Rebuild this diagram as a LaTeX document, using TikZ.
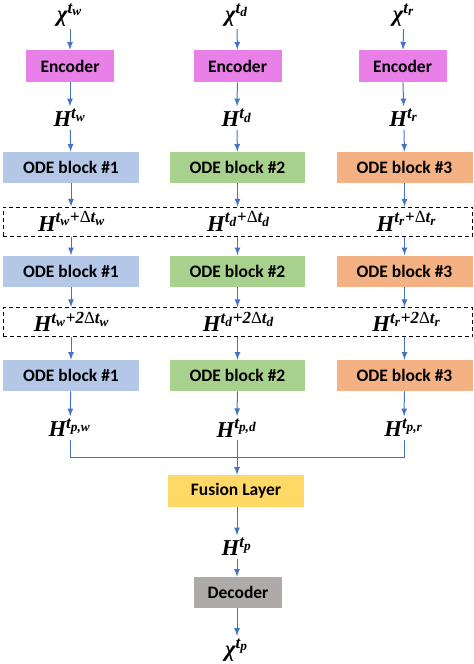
\RequirePackage{fix-cm}
\documentclass[tikz,border=0pt]{standalone}
\usepackage{amsmath}
\usepackage{fontspec}
\setmainfont{Carlito}
\newfontfamily\labfont{Liberation Serif}
\DeclareMathSizes{13.6}{13.6}{10.2}{8}
\newcommand{\lb}[1]{\text{\labfont\bfseries\itshape #1}}
\newcommand{\lbup}[1]{\text{\labfont #1}}
\newcommand{\lbplus}{\mathbin{\text{\labfont\bfseries +}}}
\usetikzlibrary{arrows,positioning}
\definecolor{enccolor}{RGB}{232,128,232}
\definecolor{odeonecolor}{RGB}{180,199,231}
\definecolor{odetwocolor}{RGB}{169,209,142}
\definecolor{odethreecolor}{RGB}{244,177,131}
\definecolor{fusecolor}{RGB}{255,217,102}
\definecolor{deccolor}{RGB}{174,170,170}
\definecolor{arrowcolor}{RGB}{68,114,196}
\tikzset{
    block/.style={
        rectangle,
        minimum width=81.6pt,
        minimum height=18.6pt,
        inner sep=0pt,
        text centered,
        font=\fontsize{10.5}{12}\selectfont\bfseries
    },
    encblock/.style={block, minimum width=52.8pt, minimum height=19.2pt, fill=enccolor},
    odeone/.style={block, fill=odeonecolor},
    odetwo/.style={block, fill=odetwocolor},
    odethree/.style={block, fill=odethreecolor},
    fuseblock/.style={block, minimum height=19.2pt, fill=fusecolor},
    decblock/.style={block, minimum width=52.8pt, fill=deccolor},
    var/.style={font=\fontsize{13.6}{16}\selectfont, inner sep=1.5pt},
    statebox/.style={rectangle, draw=black, dash pattern=on 2.4pt off 1.8pt, line width=0.6pt, minimum width=282pt, minimum height=17.4pt},
    arrow/.style={->, >=latex, line width=0.6pt, color=arrowcolor},
    link/.style={line width=0.6pt, color=arrowcolor}
}
\begin{document}
\begin{tikzpicture}[x=0.6pt, y=-0.6pt]
    \useasboundingbox (0,0) rectangle (474,664);

    % Inputs
    \node[var] (xw) at (70,15) {$\lb{χ}^{\lb{t}_{\lb{w}}}$};
    \node[var] (xd) at (237,15) {$\lb{χ}^{\lb{t}_{\lb{d}}}$};
    \node[var] (xr) at (404,15) {$\lb{χ}^{\lb{t}_{\lb{r}}}$};

    % Encoders
    \node[encblock] (encw) at (70,66) {Encoder};
    \node[encblock] (encd) at (237.5,66) {Encoder};
    \node[encblock] (encr) at (402.5,66) {Encoder};

    % Hidden states
    \node[var] (hw) at (70,118) {$\lb{H}^{\lb{t}_{\lb{w}}}$};
    \node[var] (hd) at (237,118) {$\lb{H}^{\lb{t}_{\lb{d}}}$};
    \node[var] (hr) at (404,118) {$\lb{H}^{\lb{t}_{\lb{r}}}$};

    % ODE blocks, first step
    \node[odeone] (odew1) at (71,167.5) {ODE block \#1};
    \node[odetwo] (oded1) at (237.5,167.5) {ODE block \#2};
    \node[odethree] (oder1) at (404.5,167.5) {ODE block \#3};

    % States after one step
    \node[statebox] (step1) at (238,221.5) {};
    \node[var] (hw1) at (72,221.5) {$\lb{H}^{\lb{t}_{\lb{w}}\lbplus\lbup{Δ}\lb{t}_{\lb{w}}}$};
    \node[var] (hd1) at (239,221.5) {$\lb{H}^{\lb{t}_{\lb{d}}\lbplus\lbup{Δ}\lb{t}_{\lb{d}}}$};
    \node[var] (hr1) at (407,221.5) {$\lb{H}^{\lb{t}_{\lb{r}}\lbplus\lbup{Δ}\lb{t}_{\lb{r}}}$};

    % ODE blocks, second step
    \node[odeone] (odew2) at (71,271) {ODE block \#1};
    \node[odetwo] (oded2) at (237.5,271) {ODE block \#2};
    \node[odethree] (oder2) at (404.5,271) {ODE block \#3};

    % States after two steps
    \node[statebox] (step2) at (238,322) {};
    \node[var] (hw2) at (72,322) {$\lb{H}^{\lb{t}_{\lb{w}}\lbplus\lb{2}\lbup{Δ}\lb{t}_{\lb{w}}}$};
    \node[var] (hd2) at (239,322) {$\lb{H}^{\lb{t}_{\lb{d}}\lbplus\lb{2}\lbup{Δ}\lb{t}_{\lb{d}}}$};
    \node[var] (hr2) at (407,322) {$\lb{H}^{\lb{t}_{\lb{r}}\lbplus\lb{2}\lbup{Δ}\lb{t}_{\lb{r}}}$};

    % ODE blocks, last step
    \node[odeone] (odew3) at (71,375.5) {ODE block \#1};
    \node[odetwo] (oded3) at (237.5,375.5) {ODE block \#2};
    \node[odethree] (oder3) at (404.5,375.5) {ODE block \#3};

    % Predicted states
    \node[var] (hpw) at (70,428) {$\lb{H}^{\lb{t}_{\lb{p,w}}}$};
    \node[var] (hpd) at (237,428) {$\lb{H}^{\lb{t}_{\lb{p,d}}}$};
    \node[var] (hpr) at (404,428) {$\lb{H}^{\lb{t}_{\lb{p,r}}}$};

    % Fusion and decoder
    \coordinate (join) at (237,457);
    \node[fuseblock] (fuse) at (236,491) {Fusion Layer};
    \node[var] (hp) at (237,547) {$\lb{H}^{\lb{t}_{\lb{p}}}$};
    \node[decblock] (dec) at (238,592.5) {Decoder};
    \node[var] (xp) at (237,650) {$\lb{χ}^{\lb{t}_{\lb{p}}}$};

    % Arrows
    \draw[arrow] (xw) -- (encw);
    \draw[arrow] (xd) -- (encd);
    \draw[arrow] (xr) -- (encr);
    \draw[arrow] (encw) -- (hw);
    \draw[arrow] (encd) -- (hd);
    \draw[arrow] (encr) -- (hr);
    \draw[arrow] (hw) -- (odew1);
    \draw[arrow] (hd) -- (oded1);
    \draw[arrow] (hr) -- (oder1);
    \draw[arrow] (odew1) -- (odew1 |- step1.north);
    \draw[arrow] (oded1) -- (oded1 |- step1.north);
    \draw[arrow] (oder1) -- (oder1 |- step1.north);
    \draw[arrow] (odew1 |- step1.south) -- (odew2);
    \draw[arrow] (oded1 |- step1.south) -- (oded2);
    \draw[arrow] (oder1 |- step1.south) -- (oder2);
    \draw[arrow] (odew2) -- (odew2 |- step2.north);
    \draw[arrow] (oded2) -- (oded2 |- step2.north);
    \draw[arrow] (oder2) -- (oder2 |- step2.north);
    \draw[arrow] (odew2 |- step2.south) -- (odew3);
    \draw[arrow] (oded2 |- step2.south) -- (oded3);
    \draw[arrow] (oder2 |- step2.south) -- (oder3);
    \draw[arrow] (odew3) -- (hpw);
    \draw[arrow] (oded3) -- (hpd);
    \draw[arrow] (oder3) -- (hpr);
    \draw[link] (hpw.south) |- (join);
    \draw[link] (hpr.south) |- (join);
    \draw[arrow] (hpd.south) -- (hpd.south |- fuse.north);
    \draw[arrow] (fuse.south -| hp) -- (hp);
    \draw[arrow] (hp) -- (hp |- dec.north);
    \draw[arrow] (dec.south -| xp) -- (xp);
\end{tikzpicture}
\end{document}
